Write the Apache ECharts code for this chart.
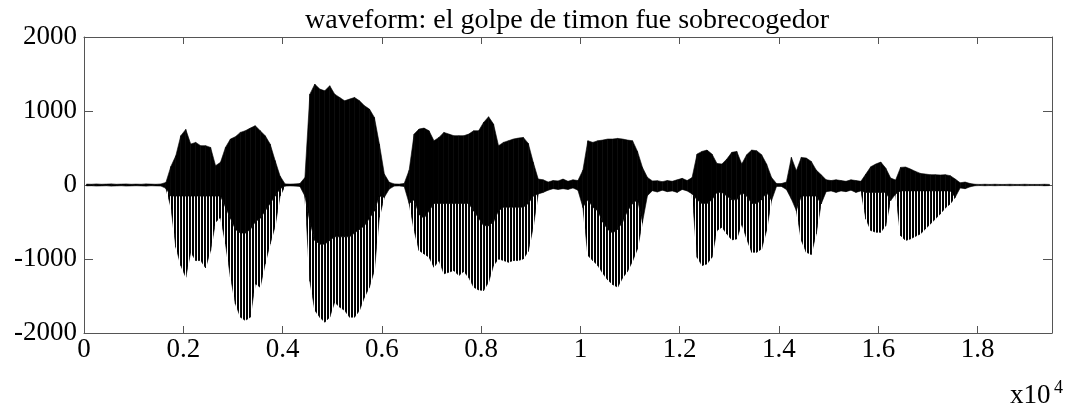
<!DOCTYPE html>
<html>
<head>
<meta charset="utf-8">
<title>waveform</title>
<script src="https://cdn.jsdelivr.net/npm/echarts@6/dist/echarts.min.js"></script>
<style>
  html, body { margin: 0; padding: 0; background: #fff; }
  #main { width: 1069px; height: 412px; }
</style>
</head>
<body>
<div id="main"></div>
<script>
// envelope of the waveform, one value per 100 samples
var binSize = 100;
var xTicks = [0, 2000, 4000, 6000, 8000, 10000, 12000, 14000, 16000, 18000];
var yTicks = [-2000, -1000, 0, 1000, 2000];

// positive peaks
var upper = [12,10,14,10,12,15,10,12,14,10,12,10,15,12,10,14,
  35,250,396,666,751,553,576,531,531,508,261,306,508,621,652,711,733,769,801,733,666,553,330,120,
  15,12,15,20,100,1228,1363,1296,1273,1341,1228,1183,1138,1161,1183,1138,1071,1026,913,553,148,36,
  15,12,20,200,688,756,769,733,598,643,711,688,666,666,666,688,733,733,846,922,823,531,576,598,621,634,643,562,306,81,
  70,40,60,55,80,50,70,60,200,598,576,598,607,621,621,630,621,607,598,454,238,103,
  55,58,45,60,50,70,90,60,100,418,454,472,418,292,283,351,441,454,283,409,472,463,409,283,103,
  20,20,40,373,193,373,364,319,202,139,70,60,70,60,50,70,60,50,
  148,247,283,310,229,94,67,238,243,216,184,157,148,139,139,135,139,126,81,30,40,20,
  10,8,10,8,10,8,8,10,8,8,10,8,8,8,10,8];

// negative peaks
var lower = [-12,-10,-14,-12,-10,-15,-12,-10,-14,-12,-10,-12,-15,-10,-12,-14,
  -45,-300,-840,-1089,-1246,-909,-1021,-1021,-1120,-886,-504,-436,-796,-1246,-1606,-1786,-1831,-1786,-1336,-1381,-1066,-796,-560,-150,
  -15,-12,-15,-20,-150,-1300,-1696,-1786,-1854,-1786,-1584,-1651,-1696,-1786,-1786,-1696,-1516,-1381,-1156,-436,-166,-54,
  -15,-12,-20,-250,-616,-886,-931,-976,-1111,-1021,-1201,-1179,-1156,-1224,-1170,-1250,-1381,-1418,-1426,-1314,-1089,-999,-1021,-1044,-1021,-1021,-999,-895,-571,-121,
  -100,-70,-50,-60,-50,-60,-40,-70,-300,-954,-1021,-1089,-1193,-1283,-1346,-1381,-1256,-1166,-1030,-864,-504,-144,
  -78,-95,-70,-90,-80,-100,-60,-80,-120,-976,-1089,-1066,-976,-616,-571,-661,-742,-729,-526,-729,-909,-909,-864,-616,-211,
  -20,-20,-60,-189,-346,-751,-909,-940,-661,-256,-90,-80,-100,-80,-90,-70,-100,-80,
  -459,-616,-639,-639,-549,-211,-121,-684,-751,-729,-693,-661,-594,-526,-459,-391,-310,-256,-166,-40,-50,-25,
  -10,-8,-10,-8,-10,-8,-8,-10,-8,-8,-10,-8,-8,-8,-10,-8];

// lower edge of the solid black part (below it only single spikes show), 0 = all solid
var core = [0,0,0,0,0,0,0,0,0,0,0,0,0,0,0,0,0,
  -150,-150,-150,-150,-150,-150,-150,-150,-150,-150,-150,
  -300,-450,-600,-650,-650,-600,-500,-450,-350,-250,-150,-50,
  0,0,0,0,0,
  -500,-750,-800,-800,-750,-700,-700,-700,-700,-650,-600,-550,-450,-350,-150,
  0,0,0,0,0,0,
  -200,-400,-450,-350,-250,-250,-250,-250,-250,-250,-250,-250,
  -350,-450,-550,-550,-500,-350,-300,-300,-300,-300,-300,-250,-150,
  0,0,0,0,0,0,0,0,0,0,
  -200,-300,-350,-500,-600,-650,-600,-500,-350,-250,-200,
  0,0,0,0,0,0,0,0,0,0,0,
  -200,-250,-250,-200,-100,-100,-150,-200,-200,-100,-150,-250,-250,-200,-100,
  0,0,0,0,0,0,
  -150,-150,-150,-150,
  0,0,0,0,0,0,0,0,0,
  -100,-100,-100,-100,-100,
  0,0,
  -80,-80,-80,-80,-80,-80,-80,-80,-80,-80,-80,
  0,0,0,0,0,0,0,0,0,0,0,0,0,0,0,0,0,0,0,0];

var xMax = upper.length * binSize;

// one slice per pair of neighbouring bins: [x0, x1, bottom0, bottom1, top0, top1]
var solidPart = [];
var spikePart = [];
for (var i = 0; i < upper.length - 1; i++) {
  var x0 = i * binSize + binSize / 2, x1 = x0 + binSize;
  var c0 = core[i] || lower[i], c1 = core[i + 1] || lower[i + 1];
  solidPart.push([x0, x1, c0, c1, upper[i], upper[i + 1]]);
  if (core[i] || core[i + 1]) {
    spikePart.push([x0, x1, lower[i], lower[i + 1], c0, c1]);
  }
}

// vertical stripes for the part where the single periods show
var stripeCanvas = document.createElement('canvas');
stripeCanvas.width = 3;
stripeCanvas.height = 4;
var sctx = stripeCanvas.getContext('2d');
sctx.fillStyle = '#000';
sctx.fillRect(0, 0, 2, 4);
var stripes = { image: stripeCanvas, repeat: 'repeat' };

function sliceRenderer(fill) {
  return function (params, api) {
    var p0 = api.coord([api.value(0), api.value(4)]);
    var p1 = api.coord([api.value(1), api.value(5)]);
    var p2 = api.coord([api.value(1), api.value(3)]);
    var p3 = api.coord([api.value(0), api.value(2)]);
    return {
      type: 'polygon',
      shape: { points: [p0, p1, p2, p3] },
      style: { fill: fill, stroke: fill, lineWidth: 0.6 }
    };
  };
}

var serif = '"Liberation Serif", "Times New Roman", serif';
var boxColor = '#555';

function tickLabelX(v) {
  if (xTicks.indexOf(v) < 0) return '';
  return v === 0 ? '0' : String(+(v / 10000).toFixed(1));
}

var chart = echarts.init(document.getElementById('main'));
chart.setOption({
  animation: false,
  backgroundColor: '#fff',
  grid: { left: 84, right: 17, top: 37, bottom: 79 },
  xAxis: [{
    type: 'value', min: 0, max: xMax, interval: 2000,
    axisLine: { show: true, onZero: false, lineStyle: { color: boxColor } },
    axisTick: { inside: true, length: 7, lineStyle: { color: boxColor } },
    axisLabel: { formatter: tickLabelX, color: '#000', fontFamily: serif, fontSize: 27, margin: 3 },
    splitLine: { show: false }
  }, {
    type: 'value', position: 'top', min: 0, max: xMax, interval: 2000,
    axisLine: { show: true, onZero: false, lineStyle: { color: boxColor } },
    axisTick: { inside: true, length: 7, lineStyle: { color: boxColor } },
    axisLabel: { show: false },
    splitLine: { show: false }
  }],
  yAxis: [{
    type: 'value', min: yTicks[0], max: yTicks[yTicks.length - 1], interval: 1000,
    axisLine: { show: true, onZero: false, lineStyle: { color: boxColor } },
    axisTick: { inside: true, length: 9, lineStyle: { color: boxColor } },
    axisLabel: { formatter: function (v) { return String(v); }, color: '#000', fontFamily: serif, fontSize: 27, margin: 7 },
    splitLine: { show: false }
  }, {
    type: 'value', position: 'right', min: yTicks[0], max: yTicks[yTicks.length - 1], interval: 1000,
    axisLine: { show: true, onZero: false, lineStyle: { color: boxColor } },
    axisTick: { inside: true, length: 9, lineStyle: { color: boxColor } },
    axisLabel: { show: false },
    splitLine: { show: false }
  }],
  series: [{
    type: 'custom',
    clip: true,
    encode: { x: [0, 1], y: [2, 3, 4, 5] },
    data: spikePart,
    renderItem: sliceRenderer(stripes)
  }, {
    type: 'custom',
    clip: true,
    encode: { x: [0, 1], y: [2, 3, 4, 5] },
    data: solidPart,
    renderItem: sliceRenderer('#000')
  }],
  graphic: [{
    type: 'text', x: 567, y: 21,
    style: { text: 'waveform: el golpe de timon fue sobrecogedor', font: '28px ' + serif, fill: '#000', textAlign: 'center', textVerticalAlign: 'middle' }
  }, {
    type: 'text', x: 1010, y: 396,
    style: { text: 'x10', font: '27px ' + serif, fill: '#000', textAlign: 'left', textVerticalAlign: 'middle' }
  }, {
    type: 'text', x: 1054, y: 388,
    style: { text: '4', font: '18px ' + serif, fill: '#000', textAlign: 'left', textVerticalAlign: 'middle' }
  }]
});
</script>
</body>
</html>
